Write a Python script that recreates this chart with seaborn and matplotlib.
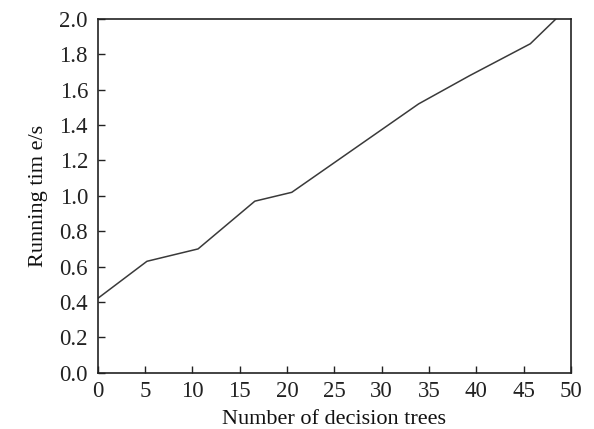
import matplotlib
matplotlib.use("Agg")
import matplotlib.pyplot as plt
import seaborn as sns
import pandas as pd

# Data
trees = [0, 5.2, 10.6, 16.6, 20.5, 33.9, 39.3, 45.7, 48.4]
running_time = [0.42, 0.63, 0.70, 0.97, 1.02, 1.52, 1.68, 1.86, 2.0]
x_ticks = [0, 5, 10, 15, 20, 25, 30, 35, 40, 45, 50]
y_ticks = [0.0, 0.2, 0.4, 0.6, 0.8, 1.0, 1.2, 1.4, 1.6, 1.8, 2.0]

df = pd.DataFrame({"trees": trees, "time": running_time})

sns.set_style("ticks")
plt.rcParams["font.family"] = ["Liberation Serif", "DejaVu Serif"]

fig = plt.figure(figsize=(5.94, 4.29), dpi=100)
ax = fig.add_axes([0.1645, 0.1312, 0.7968, 0.8245])

sns.lineplot(data=df, x="trees", y="time", ax=ax, color="#3a3a3a", linewidth=1.1)

ax.set_xlim(0, 50)
ax.set_ylim(0, 2.0)
ax.set_xticks(x_ticks)
ax.set_yticks(y_ticks)
ax.set_xticklabels([str(t) for t in x_ticks])
ax.set_yticklabels([f"{t:.1f}" for t in y_ticks])
ax.tick_params(direction="in", length=5, width=1.0, colors="#222222",
               labelsize=16.5, top=False, right=False)
ax.tick_params(axis="y", pad=7)
ax.tick_params(axis="x", pad=6)

for s in ax.spines.values():
    s.set_visible(True)
    s.set_color("#222222")
    s.set_linewidth(1.2)

ax.set_xlabel("Number of decision trees", fontsize=16, color="#111111", labelpad=6)
ax.set_ylabel("Running tim e/s", fontsize=16, color="#111111", labelpad=8)

fig.savefig("out.png", dpi=100)
